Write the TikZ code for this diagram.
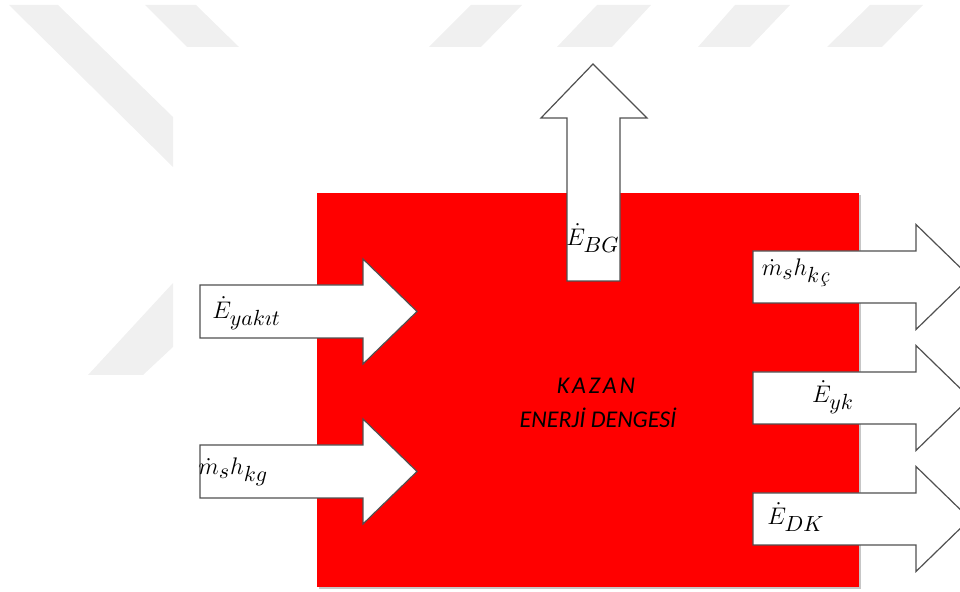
\documentclass[tikz,border=0pt]{standalone}
\usepackage{amsmath}
\usepackage{fontspec}
\newfontfamily\kazanfont{Carlito}
\newfontfamily\kazanwide[LetterSpace=12]{Carlito}
\DeclareMathSizes{13}{13}{11}{8}
\definecolor{boilerred}{HTML}{FF0000}
\definecolor{markgray}{HTML}{F0F0F0}
\definecolor{edgegray}{HTML}{505050}

\begin{document}
\begin{tikzpicture}[x=0.5pt,y=-0.5pt,
    flow/.style={fill=white, draw=edgegray, line width=0.6pt, line join=miter},
    flowlabel/.style={inner sep=0pt, font=\fontsize{13}{15}\selectfont},
    boilertext/.style={inner sep=0pt, font=\kazanfont\itshape\fontsize{12}{14}\selectfont}]
          \useasboundingbox (0,0) rectangle (960,592);
          \clip (0,0) rectangle (960,592);

          % Faint background stripes
          \fill[markgray] (9,5) -- (58,5) -- (173,117) -- (173,167) -- cycle;
          \fill[markgray] (145,5) -- (196,5) -- (239,47) -- (187,47) -- cycle;
          \fill[markgray] (471,5) -- (522,5) -- (481,47) -- (429,47) -- cycle;
          \fill[markgray] (597,5) -- (651,5) -- (612,47) -- (557,47) -- cycle;
          \fill[markgray] (735,5) -- (790,5) -- (750,47) -- (698,47) -- cycle;
          \fill[markgray] (870,5) -- (923,5) -- (882,47) -- (827,47) -- cycle;
          \fill[markgray] (173,283) -- (173,347) -- (143,375) -- (88,375) -- cycle;

          % Boiler body
          \fill[gray!45] (319,195) rectangle (861,589);
          \fill[boilerred] (317,193) rectangle (859,587);

          % Incoming flows
          \foreach \y in {311.5,471.5}
            \filldraw[flow] (200,\y-26.5) -- (363,\y-26.5) -- (363,\y-52.5) -- (417,\y)
              -- (363,\y+52.5) -- (363,\y+26.5) -- (200,\y+26.5) -- cycle;

          % Flue gas flow
          \filldraw[flow] (567,281) -- (567,118) -- (541,118) -- (593,64)
            -- (647,118) -- (620,118) -- (620,281) -- cycle;

          % Outgoing flows
          \foreach \y in {277,398,519}
            \filldraw[flow] (753,\y-26) -- (916,\y-26) -- (916,\y-52.5) -- (970,\y)
              -- (916,\y+52.5) -- (916,\y+26) -- (753,\y+26) -- cycle;

          % Labels
          \node[flowlabel, anchor=west] (yakit) at (212,313) {$\dot{E}_{ya k\imath t}$};
          \node[flowlabel, anchor=west] (kg) at (198,472) {$\dot{m}_s h_{kg}$};
          \node[flowlabel] (bg) at (593,238) {$\dot{E}_{BG}$};
          \node[flowlabel] (kc) at (796,273) {$\dot{m}_s h_{k\text{\itshape ç}}$};
          \node[flowlabel] (yk) at (833,397) {$\dot{E}_{yk}$};
          \node[flowlabel] (dk) at (796,517) {$\dot{E}_{DK}$};

          \node[boilertext] (kazan) at (596,386) {\kazanwide\itshape KAZAN};
          \node[boilertext] (denge) at (598,418) {ENERJİ DENGESİ};
        \end{tikzpicture}
\end{document}
